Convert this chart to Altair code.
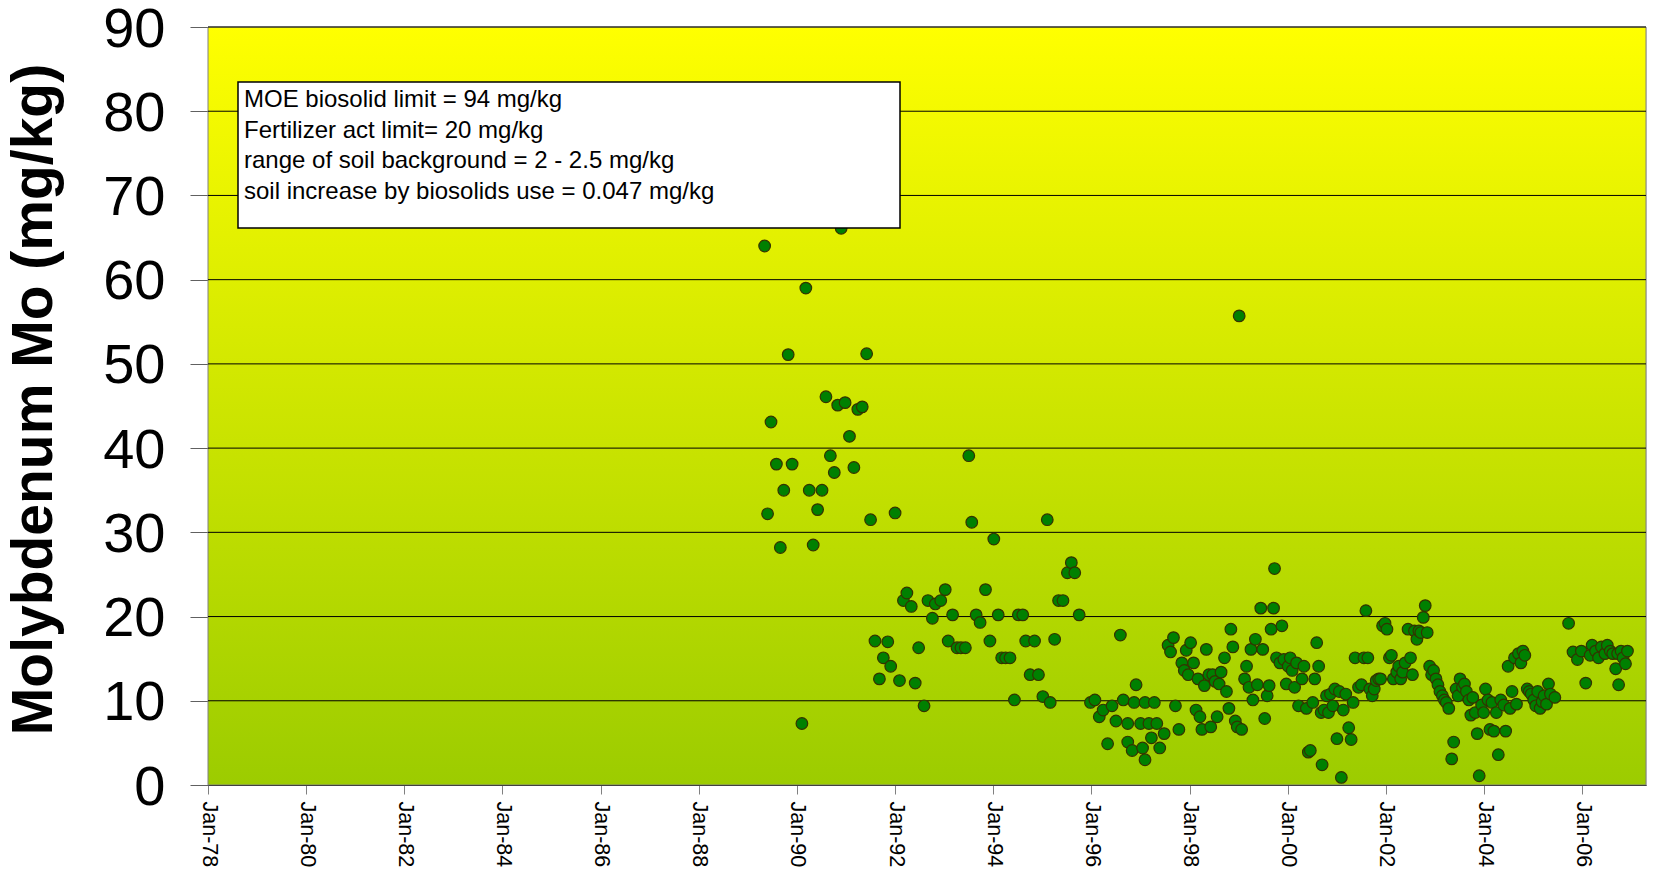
import altair as alt
import pandas as pd
import numpy as np

# ---- data (decimal year of sampling, Mo concentration mg/kg) ----
years = [
 1989.34,1990.90,1989.47,1989.40,1989.58,1989.66,1989.73,1989.82,1989.90,1990.10,
 1990.18,1990.25,1990.33,1990.42,1990.51,1990.59,1990.68,1990.76,1990.83,1990.98,
 1991.07,1991.16,1991.24,1991.33,1991.42,1991.50,1991.59,1991.68,1991.76,1991.85,
 1991.91,1992.00,1992.09,1992.17,1992.24,1992.33,1992.41,1992.48,1992.59,1992.67,
 1992.76,1992.82,1992.93,1993.02,1993.08,1993.17,1993.26,1993.34,1993.43,1993.50,
 1993.56,1993.65,1993.73,1993.84,1993.93,1994.01,1994.10,1994.17,1994.25,1994.34,
 1994.43,1994.51,1994.60,1994.66,1994.75,1994.84,1994.92,1995.01,1995.10,1995.16,
 1995.25,1995.33,1995.42,1995.51,1995.59,1995.66,1995.75,
 1995.98,1996.07,1996.16,1996.24,1996.33,1996.42,1996.50,1996.59,1996.65,1996.74,
 1996.74,1996.83,1996.91,1996.87,1997.00,1997.04,1997.09,1997.09,1997.17,1997.22,
 1997.28,1997.33,1997.39,1997.48,1997.56,1997.61,1997.67,1997.71,1997.78,1997.84,
 1997.89,1997.93,1997.97,1998.02,1998.08,1998.13,1998.17,1998.21,1998.25,1998.30,
 1998.34,1998.39,1998.43,1998.47,1998.52,1998.56,1998.60,1998.64,1998.71,1998.75,
 1998.80,1998.84,1998.88,1998.93,1998.97,1999.01,1999.06,1999.12,1999.16,1999.21,
 1999.25,1999.29,1999.34,1999.38,1999.45,1999.49,1999.53,1999.58,1999.62,1999.66,
 1999.71,1999.73,1999.77,1999.84,1999.88,1999.92,1999.97,2000.01,
 2000.05,2000.09,2000.14,2000.18,2000.22,2000.29,2000.33,2000.38,2000.42,2000.46,
 2000.51,2000.55,2000.59,2000.63,2000.68,2000.70,2000.74,2000.79,2000.83,2000.87,
 2000.92,2000.96,2001.00,2001.05,2001.09,2001.13,2001.18,2001.24,2001.29,2001.33,
 2001.37,2001.44,2001.50,2001.55,2001.59,2001.63,2001.67,2001.72,2001.76,2001.80,
 2001.85,2001.89,2001.93,2001.98,2002.02,2002.07,2002.11,2002.15,2002.22,2002.26,
 2002.30,2002.34,2002.39,2002.45,2002.50,2002.54,2002.58,2002.63,2002.67,2002.71,
 2002.76,2002.80,2002.84,2002.89,2002.93,2002.97,2003.02,2003.06,2003.10,2003.15,
 2003.19,2003.23,2003.28,2003.34,2003.38,
 2003.43,2003.47,2003.51,2003.56,2003.60,2003.64,2003.69,2003.73,2003.77,2003.82,
 2003.86,2003.90,2003.95,2003.99,2004.03,2004.08,2004.12,2004.16,2004.20,2004.25,
 2004.29,2004.34,2004.40,2004.44,2004.49,2004.53,2004.57,2004.62,2004.66,2004.70,
 2004.75,2004.79,2004.83,2004.88,2004.92,2004.96,2005.01,2005.05,2005.09,2005.14,
 2005.18,2005.22,2005.27,2005.31,2005.35,2005.44,2005.72,2005.81,2005.90,2005.98,
 2006.07,2006.16,2006.20,2006.27,2006.33,2006.39,2006.46,2006.51,2006.57,2006.62,
 2006.68,2006.72,2006.74,2006.79,2006.83,2006.88,2006.92,
]
values = [
 64.0,66.1,43.1,32.2,38.1,28.2,35.0,51.1,38.1,7.3,
 59.0,35.0,28.5,32.7,35.0,46.1,39.1,37.1,45.1,45.4,
 41.4,37.7,44.6,44.9,51.2,31.5,17.1,12.6,15.1,17.0,
 14.1,32.3,12.4,21.9,22.8,21.2,12.1,16.3,9.4,21.9,
 19.8,21.5,21.9,23.2,17.1,20.2,16.3,16.3,16.3,39.1,
 31.2,20.2,19.3,23.2,17.1,29.2,20.2,15.1,15.1,15.1,
 10.1,20.2,20.2,17.1,13.1,17.1,13.1,10.5,31.5,9.8,
 17.3,21.9,21.9,25.2,26.4,25.2,20.2,
 9.8,10.1,8.1,8.9,4.9,9.4,7.6,17.8,10.1,7.3,
 5.1,4.1,11.9,9.8,7.3,4.4,3.0,9.8,7.3,5.6,
 9.8,7.3,4.4,6.1,16.6,15.8,17.5,9.4,6.6,14.5,
 13.6,16.0,13.1,16.9,14.5,8.9,12.6,8.1,6.6,11.8,
 16.1,13.1,6.9,13.1,12.3,8.1,12.0,13.4,15.1,11.1,
 9.1,18.5,16.4,7.6,6.9,55.7,6.6,12.6,14.1,11.6,
 16.1,10.1,17.3,11.9,21.0,16.1,7.9,10.6,11.8,18.5,
 21.0,25.7,15.1,14.5,18.9,14.9,12.0,14.1,
 15.1,13.6,11.6,14.5,9.4,12.6,14.1,9.1,3.9,4.1,
 9.8,12.6,16.9,14.1,8.6,2.4,8.9,10.6,8.6,10.8,
 9.4,11.4,5.5,11.1,0.9,8.9,10.8,6.8,5.4,9.8,
 15.1,11.6,11.9,15.1,20.7,15.1,11.4,10.6,11.4,12.4,
 12.6,12.6,18.9,19.2,18.5,15.1,15.4,12.6,13.4,14.1,
 12.6,13.4,14.5,18.5,15.1,13.1,18.3,17.3,18.3,18.1,
 19.9,21.3,18.1,14.1,13.1,13.6,12.6,11.9,11.1,10.6,
 10.1,9.8,9.1,3.1,5.1,
 11.4,10.6,12.6,11.6,12.0,11.1,10.1,8.3,10.4,8.6,
 6.1,1.1,9.5,8.6,11.4,10.1,6.6,9.8,6.4,8.6,
 3.6,10.1,9.5,6.4,14.1,9.1,11.1,15.1,9.6,15.6,
 14.5,15.9,15.4,11.4,11.1,10.8,10.1,9.4,11.1,9.1,
 9.9,10.6,9.6,12.0,10.8,10.4,19.2,15.8,14.9,15.9,
 12.1,15.4,16.6,15.9,15.1,16.4,15.6,16.6,15.9,15.6,
 13.8,15.6,11.9,15.9,15.1,14.4,15.9,
]
y_ticks = [0, 10, 20, 30, 40, 50, 60, 70, 80, 90]
x_tick_years = list(range(1978, 2007, 2))
note_lines = [
    "MOE biosolid limit = 94 mg/kg",
    "Fertilizer act limit= 20 mg/kg",
    "range of soil background = 2 - 2.5 mg/kg",
    "soil increase by biosolids use = 0.047 mg/kg",
]

def dec_to_date(y):
    base = pd.Timestamp(year=int(y), month=1, day=1)
    return base + pd.Timedelta(days=(y - int(y)) * 365.25)

df = pd.DataFrame({"date": [dec_to_date(y) for y in years], "mo": values})
grid_df = pd.DataFrame({"g": y_ticks[1:]})
one = pd.DataFrame({"a": [0]})

W, H = 1438, 758
FONT = "Liberation Sans"

xscale = alt.Scale(domain=[alt.DateTime(year=1978, month=1, date=1),
                           alt.DateTime(year=2007, month=4, date=20)])
yscale = alt.Scale(domain=[0, 90], nice=False)

xaxis = alt.Axis(
    values=[alt.DateTime(year=y, month=1, date=1) for y in x_tick_years],
    format="%b-%y", labelAngle=90, labelAlign="left", labelBaseline="middle",
    labelFontSize=21.5, labelColor="black", labelPadding=7, labelFont=FONT,
    tickSize=9, tickColor="#808080", domainColor="black", domainWidth=1,
    grid=False, title=None, labelOverlap=False, labelFlush=False)
yaxis = alt.Axis(
    values=y_ticks, labelFontSize=56, labelColor="black", labelPadding=25,
    labelOffset=2,
    labelFont=FONT, tickSize=18, tickColor="#606060", domainColor="black",
    grid=False, title="Molybdenum Mo (mg/kg)", titleFontSize=57,
    titleFontWeight="bold", titleFont=FONT, titleColor="black",
    titleX=-174, titleY=372, titleBaseline="middle", titleAlign="center",
    titleAngle=270, labelFlush=False, labelOverlap=False)

grad = alt.LinearGradient(
    gradient="linear",
    stops=[alt.GradientStop(color="#ffff00", offset=0),
           alt.GradientStop(color="#9ccc00", offset=1)],
    x1=0, x2=0, y1=0, y2=1)

bg = alt.Chart(one).mark_rect(color=grad, stroke="#808080", strokeWidth=1).encode(
    x=alt.value(0), x2=alt.value(W), y=alt.value(0), y2=alt.value(H))

grid = alt.Chart(grid_df).mark_rule(color="black", strokeWidth=1).encode(
    y=alt.Y("g:Q", scale=yscale, axis=yaxis))

pts = alt.Chart(df).mark_circle(
    color="#008000", stroke="#333300", strokeWidth=1.2, size=135, opacity=1
).encode(
    x=alt.X("date:T", scale=xscale, axis=xaxis),
    y=alt.Y("mo:Q", scale=yscale, axis=yaxis),
)

box = alt.Chart(one).mark_rect(fill="white", stroke="black", strokeWidth=1.5).encode(
    x=alt.value(30), x2=alt.value(692), y=alt.value(55), y2=alt.value(201))

note = alt.Chart(one).mark_text(
    align="left", baseline="top", fontSize=24, lineHeight=30.5, font=FONT, color="black"
).encode(x=alt.value(36), y=alt.value(61), text=alt.value(note_lines))

chart = alt.layer(bg, grid, pts, box, note).properties(
    width=W, height=H,
    autosize=alt.AutoSizeParams(type="none"),
    padding={"left": 200, "top": 19, "right": 10, "bottom": 85},
).configure_view(stroke=None).configure(font=FONT)

chart.save("out.html", embed_options={"renderer": "svg", "actions": False})
